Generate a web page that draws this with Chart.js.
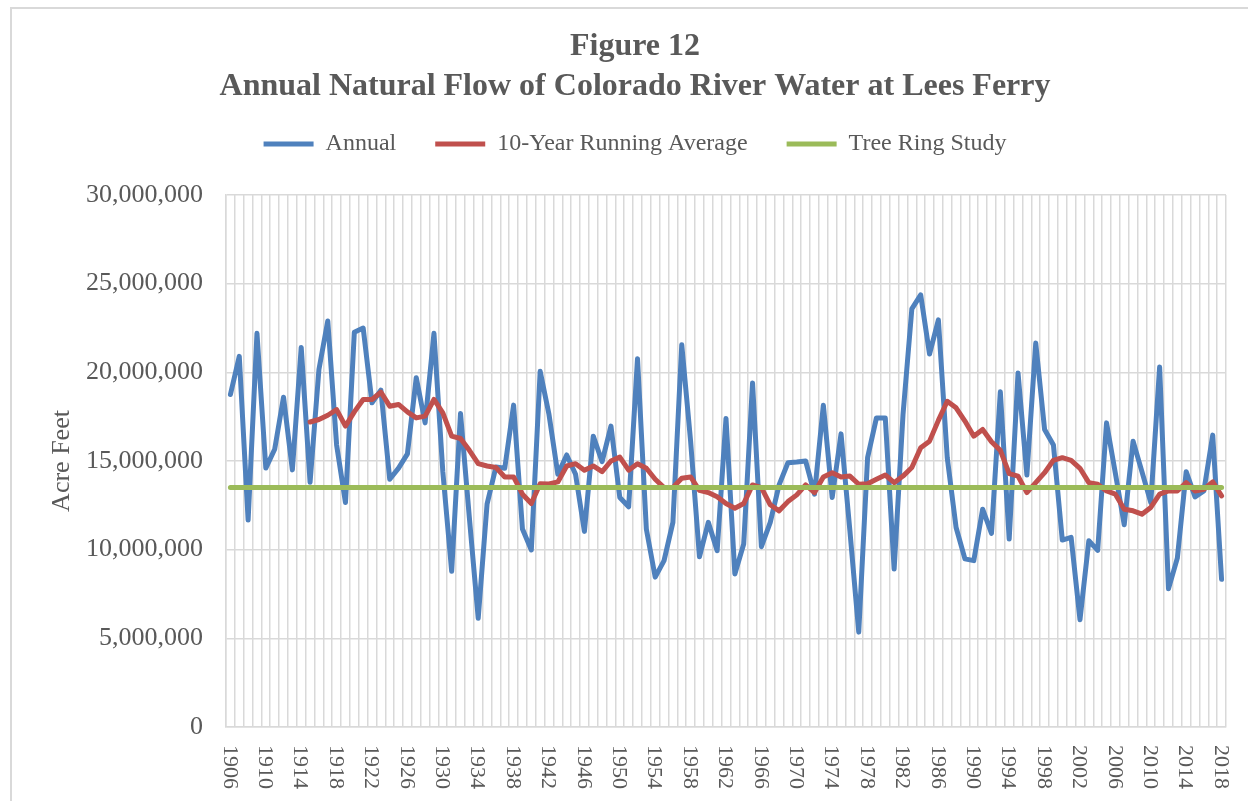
<!DOCTYPE html>
<html>
<head>
<meta charset="utf-8">
<script src="https://cdn.jsdelivr.net/npm/chart.js@4.4.1/dist/chart.umd.min.js"></script>
<style>
  html, body { margin: 0; padding: 0; background: #fff; }
  .chart-container { position: relative; width: 1248px; height: 801px; }
</style>
</head>
<body>
<div class="chart-container">
  <canvas id="flowChart"></canvas>
</div>
<script>
const years = Array.from({ length: 113 }, function(_, i) { return String(1906 + i); });

// acre feet, 1906 - 2018
const annual = [
  18750000, 20900000, 11670000, 22200000, 14600000, 15660000, 18600000, 14500000, 21400000, 13800000,
  20150000, 22900000, 15900000, 12660000, 22260000, 22500000, 18280000, 19000000, 13970000, 14600000,
  15400000, 19700000, 17150000, 22200000, 14400000, 8780000, 17680000, 11800000, 6130000, 12570000,
  14660000, 14590000, 18150000, 11160000, 9980000, 20060000, 17620000, 14250000, 15340000, 14250000,
  11030000, 16400000, 14960000, 16970000, 12940000, 12420000, 20770000, 11160000, 8450000, 9380000,
  11540000, 21560000, 16120000, 9600000, 11540000, 9940000, 17400000, 8630000, 10320000, 19400000,
  10170000, 11540000, 13650000, 14900000, 14940000, 15000000, 13130000, 18150000, 12940000, 16530000,
  11070000, 5350000, 15190000, 17430000, 17430000, 8910000, 17600000, 23580000, 24370000, 21030000,
  22960000, 15190000, 11250000, 9480000, 9380000, 12280000, 10920000, 18900000, 10600000, 19960000,
  14210000, 21650000, 16780000, 15900000, 10540000, 10690000, 6050000, 10500000, 9960000, 17150000,
  14300000, 11400000, 16120000, 14400000, 12660000, 20300000, 7790000, 9520000, 14400000, 12980000,
  13310000, 16460000, 8330000
];

// 10-year running average, starts in 1915
const runningAvg = [
  null, null, null, null, null, null, null, null, null,
  17200000, 17340000, 17580000, 17900000, 16970000, 17770000, 18470000, 18470000, 18880000, 18090000,
  18190000, 17770000, 17430000, 17530000, 18470000, 17710000, 16400000, 16270000, 15600000, 14850000,
  14720000, 14630000, 14100000, 14100000, 13130000, 12600000, 13720000, 13700000, 13820000, 14720000,
  14850000, 14480000, 14720000, 14400000, 15000000, 15220000, 14480000, 14850000, 14590000, 13970000,
  13500000, 13500000, 14030000, 14100000, 13350000, 13220000, 12980000, 12600000, 12340000, 12600000,
  13650000, 13500000, 12530000, 12190000, 12710000, 13090000, 13650000, 13220000, 14100000, 14340000,
  14100000, 14150000, 13690000, 13720000, 13970000, 14210000, 13780000, 14150000, 14630000, 15750000,
  16120000, 17290000, 18370000, 18000000, 17250000, 16400000, 16780000, 16090000, 15600000, 14290000,
  14150000, 13220000, 13780000, 14340000, 15040000, 15190000, 15040000, 14590000, 13780000, 13690000,
  13310000, 13130000, 12280000, 12190000, 12000000, 12380000, 13130000, 13310000, 13310000, 13780000,
  13310000, 13410000, 13820000, 13030000
];

const TREE_RING = 13500000;
const treeRing = years.map(function() { return TREE_RING; });

const TEXT = '#595959';
const GRID = '#d9d9d9';
const SERIF = '"Liberation Serif", "Times New Roman", serif';

const frame = {
  id: 'frame',
  beforeInit: function(chart) {
    // leave a gap between legend and plot, like the Excel original
    const fit = chart.legend.fit;
    chart.legend.fit = function() {
      fit.bind(chart.legend)();
      this.height += 29;
    };
  },
  beforeDraw: function(chart) {
    const ctx = chart.ctx;
    ctx.save();
    ctx.fillStyle = '#fff';
    ctx.fillRect(0, 0, chart.width, chart.height);
    ctx.strokeStyle = GRID;
    ctx.lineWidth = 2;
    ctx.beginPath();
    ctx.moveTo(11, chart.height);
    ctx.lineTo(11, 8);
    ctx.lineTo(chart.width, 8);
    ctx.stroke();
    ctx.restore();
  }
};

// Excel style year labels, rotated to read top to bottom
const yearLabels = {
  id: 'yearLabels',
  afterDraw: function(chart) {
    const ctx = chart.ctx;
    const xs = chart.scales.x;
    ctx.save();
    ctx.font = '22px ' + SERIF;
    ctx.fillStyle = TEXT;
    ctx.textAlign = 'left';
    ctx.textBaseline = 'middle';
    years.forEach(function(y, i) {
      if (i % 4 !== 0) return;
      ctx.save();
      ctx.translate(xs.getPixelForValue(i) - 1, chart.chartArea.bottom + 18);
      ctx.rotate(Math.PI / 2);
      ctx.fillText(y, 0, 0);
      ctx.restore();
    });
    ctx.restore();
  }
};

const ctx = document.getElementById('flowChart').getContext('2d');
const chart = new Chart(ctx, {
  type: 'line',
  data: {
    labels: years,
    datasets: [
      {
        label: 'Annual',
        data: annual,
        borderColor: '#4f81bd',
        backgroundColor: '#4f81bd',
        borderWidth: 5,
        borderCapStyle: 'round',
        borderJoinStyle: 'round',
        pointRadius: 0,
        order: 3
      },
      {
        label: '10-Year Running Average',
        data: runningAvg,
        borderColor: '#c0504d',
        backgroundColor: '#c0504d',
        borderWidth: 5,
        borderCapStyle: 'round',
        borderJoinStyle: 'round',
        pointRadius: 0,
        order: 2
      },
      {
        label: 'Tree Ring Study',
        data: treeRing,
        borderColor: '#9bbb59',
        backgroundColor: '#9bbb59',
        borderWidth: 5,
        borderCapStyle: 'round',
        pointRadius: 0,
        order: 1
      }
    ]
  },
  options: {
    responsive: true,
    maintainAspectRatio: false,
    animation: false,
    layout: {
      padding: { left: 44, right: 22, top: 0, bottom: 74 }
    },
    plugins: {
      title: {
        display: true,
        text: ['Figure 12', 'Annual Natural Flow of Colorado River Water at Lees Ferry'],
        color: TEXT,
        font: { family: SERIF, size: 32, weight: 'bold', lineHeight: '40px' },
        padding: { top: 27, bottom: -14 }
      },
      legend: {
        position: 'top',
        labels: {
          color: TEXT,
          font: { family: SERIF, size: 24 },
          usePointStyle: true,
          pointStyle: 'line',
          pointStyleWidth: 50,
          padding: 39,
          sort: function(a, b) { return a.datasetIndex - b.datasetIndex; }
        }
      },
      tooltip: { enabled: false }
    },
    scales: {
      x: {
        offset: true,
        grid: { offset: true, color: GRID, lineWidth: 1.5, drawTicks: false },
        border: { color: GRID, width: 1.5 },
        ticks: { display: false }
      },
      y: {
        min: 0,
        max: 30000000,
        ticks: {
          stepSize: 5000000,
          color: TEXT,
          font: { family: SERIF, size: 26 },
          padding: 23,
          callback: function(v) { return v.toLocaleString('en-US'); }
        },
        grid: { color: GRID, lineWidth: 1.5, drawTicks: false },
        border: { color: GRID, width: 1.5 },
        title: {
          display: true,
          text: 'Acre Feet',
          color: TEXT,
          font: { family: SERIF, size: 26 },
          padding: { top: 3, bottom: 0 }
        },
        afterFit: function(scale) { scale.width = 182; }
      }
    }
  },
  plugins: [frame, yearLabels]
});
</script>
</body>
</html>
